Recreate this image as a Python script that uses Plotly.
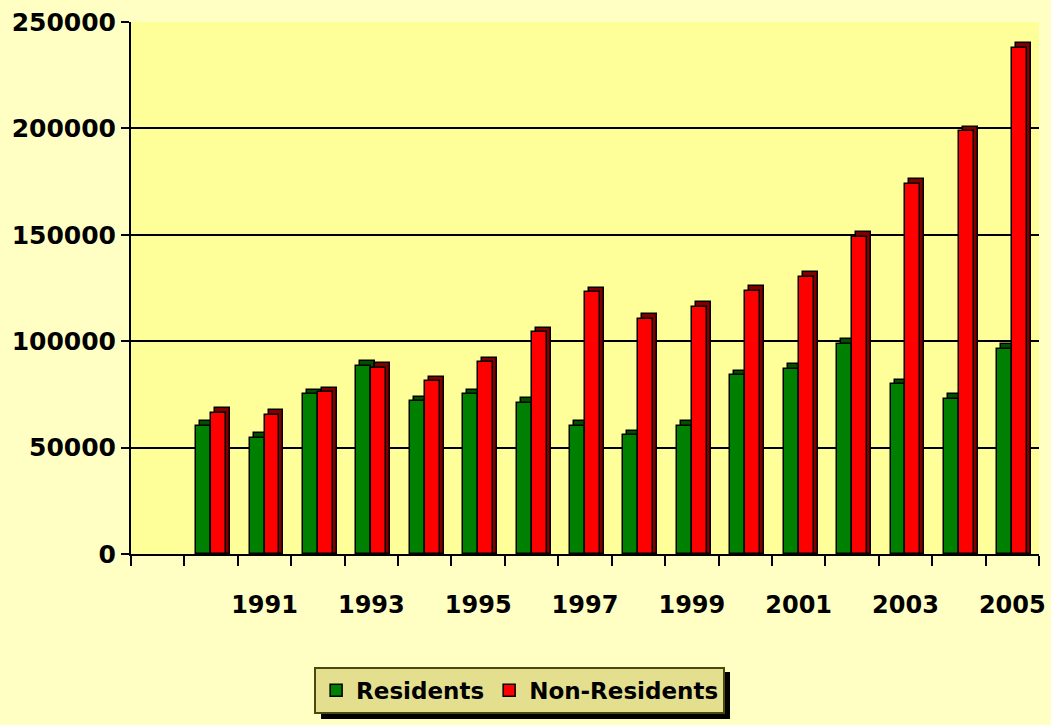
import numpy as np
import plotly.graph_objects as go

# ---- data ----
years = list(range(1990, 2006))
residents = [60100, 54600, 75000, 88500, 71800, 75000, 70900, 60100,
             55700, 60100, 83900, 87000, 98800, 79700, 72900, 96400]
non_residents = [66400, 65400, 76000, 87500, 81200, 90100, 104200, 122900,
                 110500, 116300, 123800, 130400, 148900, 174000, 198600, 237900]
label_years = [1991, 1993, 1995, 1997, 1999, 2001, 2003, 2005]
label_text = [str(y) for y in label_years]
y_ticks = [0, 50000, 100000, 150000, 200000, 250000]

FONT = "Comic Sans MS, DejaVu Sans, sans-serif"
W = 0.28          # bar width (x units)
DX = 0.075        # depth offset in x units
DY = 2200         # depth offset in y units

fig = go.Figure()

def add_series(vals, name, face, side, offset):
    # depth / side face
    fig.add_trace(go.Bar(
        x=years, y=[v + DY for v in vals], width=W, offset=offset + DX,
        marker=dict(color=side, line=dict(color="black", width=1.5)),
        showlegend=False, hoverinfo="skip"))
    # front face
    fig.add_trace(go.Bar(
        x=years, y=vals, width=W, offset=offset, name=name,
        marker=dict(color=face, line=dict(color="black", width=1.5))))

add_series(residents, "Residents", "#008000", "#005000", -W)
add_series(non_residents, "Non-Residents", "#FF0000", "#800000", 0.0)

# invisible trace for the label axis
fig.add_trace(go.Scatter(x=label_years, y=[0] * len(label_years), xaxis="x2",
                         mode="markers", marker=dict(opacity=0), showlegend=False,
                         hoverinfo="skip"))

xr = [1988.5, 2005.5]
fig.update_layout(
    width=1051, height=725,
    margin=dict(l=131, r=12, t=22, b=171, autoexpand=False),
    paper_bgcolor="#FFFFC4",
    plot_bgcolor="#FFFF99",
    barmode="overlay",
    font=dict(family=FONT, size=24, color="black", weight="bold"),
    xaxis=dict(range=xr, tickvals=list(np.arange(1988.5, 2006, 1.0)),
               showticklabels=False, ticks="outside", ticklen=10, tickwidth=2,
               tickcolor="black", showline=True, linecolor="black", linewidth=2,
               showgrid=False, zeroline=False, automargin=False),
    xaxis2=dict(range=xr, overlaying="x", side="bottom", tickvals=label_years,
                ticktext=label_text, ticks="", showline=False, showgrid=False,
                zeroline=False, ticklabelstandoff=34, automargin=False,
                tickfont=dict(family=FONT, size=24, color="black", weight="bold")),
    yaxis=dict(range=[0, 250000], tickvals=y_ticks, ticktext=[str(v) for v in y_ticks],
               ticks="outside", ticklen=8, tickwidth=2, tickcolor="black",
               showline=True, linecolor="black", linewidth=2, automargin=False,
               showgrid=True, gridcolor="black", gridwidth=2, zeroline=False,
               tickfont=dict(family=FONT, size=25, color="black", weight="bold")),
    legend=dict(orientation="h", x=0.428, y=-0.256, xanchor="center", yanchor="middle",
                bgcolor="#E4DF8E", bordercolor="#4A4A10", borderwidth=2,
                font=dict(family=FONT, size=23, color="black", weight="bold"),
                itemwidth=30, traceorder="normal"),
    bargap=0,
    shapes=[dict(type="rect", xref="paper", yref="paper",
                 x0=0.2093, x1=0.6597, y0=-0.3102, y1=-0.2218,
                 fillcolor="black", line=dict(width=0), layer="above")],
)

fig.write_html("out.html", config={"displayModeBar": False},
               post_script="document.body.style.margin='0px';document.body.style.overflow='hidden';")
